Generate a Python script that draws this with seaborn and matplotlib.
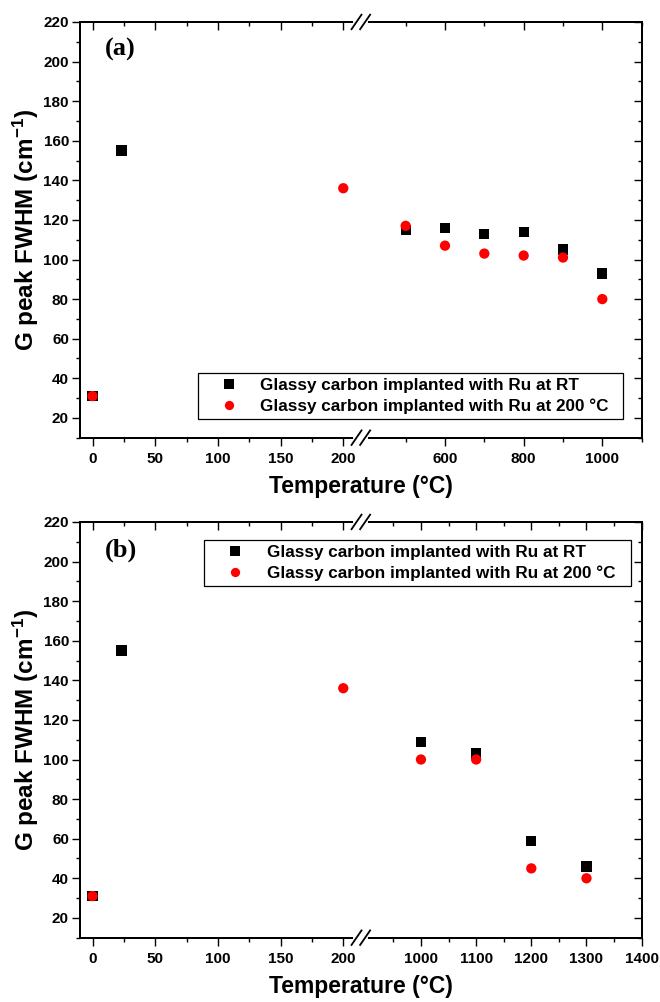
import numpy as np
import pandas as pd
import matplotlib
matplotlib.use("Agg")
import matplotlib.pyplot as plt
import seaborn as sns
from matplotlib.ticker import FixedLocator

sns.set_style("ticks")
plt.rcParams["font.family"] = ["Liberation Sans", "DejaVu Sans"]
plt.rcParams["font.weight"] = "bold"
plt.rcParams["axes.labelweight"] = "bold"
plt.rcParams["mathtext.fontset"] = "custom"
plt.rcParams["mathtext.rm"] = "Liberation Sans:bold"
plt.rcParams["mathtext.it"] = "Liberation Sans:bold"
plt.rcParams["mathtext.bf"] = "Liberation Sans:bold"
plt.rcParams["mathtext.default"] = "regular"
for k in ["axes.edgecolor", "xtick.color", "ytick.color", "text.color", "axes.labelcolor"]:
    plt.rcParams[k] = "black"

# ---------------- data ----------------
series_labels = ["Glassy carbon implanted with Ru at RT",
                 "Glassy carbon implanted with Ru at 200 °C"]
series_colors = ["#000000", "#ff0000"]
series_markers = ["s", "o"]

# panel (a)
a_rt_temp = [0, 23, 500, 600, 700, 800, 900, 1000]
a_rt_fwhm = [31, 155, 115, 116, 113, 114, 105, 93]
a_hot_temp = [0, 200, 500, 600, 700, 800, 900, 1000]
a_hot_fwhm = [31, 136, 117, 107, 103, 102, 101, 80]

# panel (b)
b_rt_temp = [0, 23, 1000, 1100, 1200, 1300]
b_rt_fwhm = [31, 155, 109, 103, 59, 46]
b_hot_temp = [0, 200, 1000, 1100, 1200, 1300]
b_hot_fwhm = [31, 136, 100, 100, 45, 40]

a_major_ticks = [0, 50, 100, 150, 200, 600, 800, 1000]
a_minor_ticks = [25, 75, 125, 175, 500, 700, 900, 1100]
b_major_ticks = [0, 50, 100, 150, 200, 1000, 1100, 1200, 1300, 1400]
b_minor_ticks = [25, 75, 125, 175, 950, 1050, 1150, 1250, 1350]
y_major_ticks = list(range(20, 221, 20))
y_minor_ticks = list(range(10, 221, 10))

a_xlim, a_break = (-10, 1100), (214, 386)
b_xlim, b_break = (-10, 1400), (214, 891)
ylim = (10, 220)


def make_break_scale(lo, b1, b2, hi):
    r = (b1 - lo) / (hi - b2)

    def fwd(x):
        x = np.asarray(x, dtype=float)
        return np.where(x <= b1, x, np.where(x >= b2, b1 + (x - b2) * r, b1))

    def inv(y):
        y = np.asarray(y, dtype=float)
        return np.where(y <= b1, y, b2 + (y - b1) / r)

    return fwd, inv


AX_W, AX_H = 561.7, 415.7  # axes size in px, for break marks


def style_ticks(a, xdir, ydir):
    a.tick_params(which="major", length=5.5, width=1.0, labelsize=11)
    a.tick_params(which="minor", length=3.0, width=1.0)
    a.tick_params(axis="x", which="both", direction=xdir, pad=4.5)
    a.tick_params(axis="y", which="both", direction=ydir, pad=2.5)
    for sp in a.spines.values():
        sp.set_linewidth(1.3)
        sp.set_color("black")


def draw_panel(ax, rt_t, rt_f, hot_t, hot_f, xlim, brk, major, minor, tag,
               leg_loc, leg_bbox):
    df = pd.DataFrame({
        "Temperature": list(rt_t) + list(hot_t),
        "FWHM": list(rt_f) + list(hot_f),
        "Sample": [series_labels[0]] * len(rt_t) + [series_labels[1]] * len(hot_t),
    })
    fwd, inv = make_break_scale(xlim[0], brk[0], brk[1], xlim[1])
    ax.set_xscale("function", functions=(fwd, inv))
    sns.scatterplot(data=df, x="Temperature", y="FWHM", hue="Sample", style="Sample",
                    palette=dict(zip(series_labels, series_colors)),
                    markers=dict(zip(series_labels, series_markers)),
                    s=55, linewidth=0, edgecolor="none", ax=ax, zorder=3)
    ax.set_xscale("function", functions=(fwd, inv))
    ax.set_xlim(xlim)
    ax.set_ylim(ylim)
    ax.xaxis.set_major_locator(FixedLocator(major))
    ax.xaxis.set_minor_locator(FixedLocator(minor))
    ax.xaxis.set_major_formatter(matplotlib.ticker.FuncFormatter(lambda v, p: f"{v:.0f}"))
    ax.yaxis.set_major_locator(FixedLocator(y_major_ticks))
    ax.yaxis.set_minor_locator(FixedLocator(y_minor_ticks))
    style_ticks(ax, "out", "out")
    ax.set_xlabel("Temperature (°C)", fontsize=16.5, fontweight="bold", labelpad=7)
    ax.set_ylabel("G peak FWHM (cm$^{-1}$)", fontsize=17.5, fontweight="bold", labelpad=2)

    # mirrored top / right ticks pointing inwards
    axt = ax.twiny()
    axt.set_xscale("function", functions=(fwd, inv))
    axt.set_xlim(xlim)
    axt.xaxis.set_major_locator(FixedLocator(major))
    axt.xaxis.set_minor_locator(FixedLocator(minor))
    axt.tick_params(axis="x", which="both", labeltop=False)
    style_ticks(axt, "in", "in")
    axr = ax.twinx()
    axr.set_ylim(ylim)
    axr.yaxis.set_major_locator(FixedLocator(y_major_ticks))
    axr.yaxis.set_minor_locator(FixedLocator(y_minor_ticks))
    axr.tick_params(axis="y", which="both", labelright=False)
    style_ticks(axr, "in", "in")

    # axis-break marks
    for yb in (0.0, 1.0):
        axr.plot([0.5 - 5.5 / AX_W, 0.5 + 5.5 / AX_W], [yb, yb], transform=axr.transAxes,
                 color="white", lw=3, clip_on=False, zorder=10)
        for dx in (-4.3, 4.3):
            xc = 0.5 + dx / AX_W
            axr.plot([xc - 5.5 / AX_W, xc + 5.5 / AX_W], [yb - 8 / AX_H, yb + 8 / AX_H],
                     transform=axr.transAxes, color="black", lw=1.3,
                     clip_on=False, zorder=11, solid_capstyle="butt")

    ax.text(0.045, 0.933, tag, transform=ax.transAxes, fontsize=19, fontweight="bold",
            family=["Liberation Serif", "DejaVu Serif"], ha="left", va="center")

    sns.move_legend(ax, leg_loc, bbox_to_anchor=leg_bbox, mode="expand", title=None,
                    frameon=True, fontsize=12.3, fancybox=False, edgecolor="black",
                    framealpha=1, borderpad=0.27, handlelength=3.1, handletextpad=0.29,
                    labelspacing=0.35, markerscale=0.9, borderaxespad=0)
    leg = ax.get_legend()
    leg.get_frame().set_linewidth(0.9)
    leg.set_zorder(20)
    for t in leg.get_texts():
        t.set_fontweight("bold")


fig = plt.figure(figsize=(6.6, 10.02), dpi=100)
ax_a = fig.add_axes([0.1212, 0.5632, 0.851, 0.4149])
ax_b = fig.add_axes([0.1212, 0.0642, 0.851, 0.4149])

draw_panel(ax_a, a_rt_temp, a_rt_fwhm, a_hot_temp, a_hot_fwhm, a_xlim, a_break,
           a_major_ticks, a_minor_ticks, "(a)", "lower left", (0.2095, 0.045, 0.7577, 0.11))
draw_panel(ax_b, b_rt_temp, b_rt_fwhm, b_hot_temp, b_hot_fwhm, b_xlim, b_break,
           b_major_ticks, b_minor_ticks, "(b)", "upper left", (0.2208, 0.8467, 0.760, 0.11))

fig.savefig("out.png", dpi=100)
